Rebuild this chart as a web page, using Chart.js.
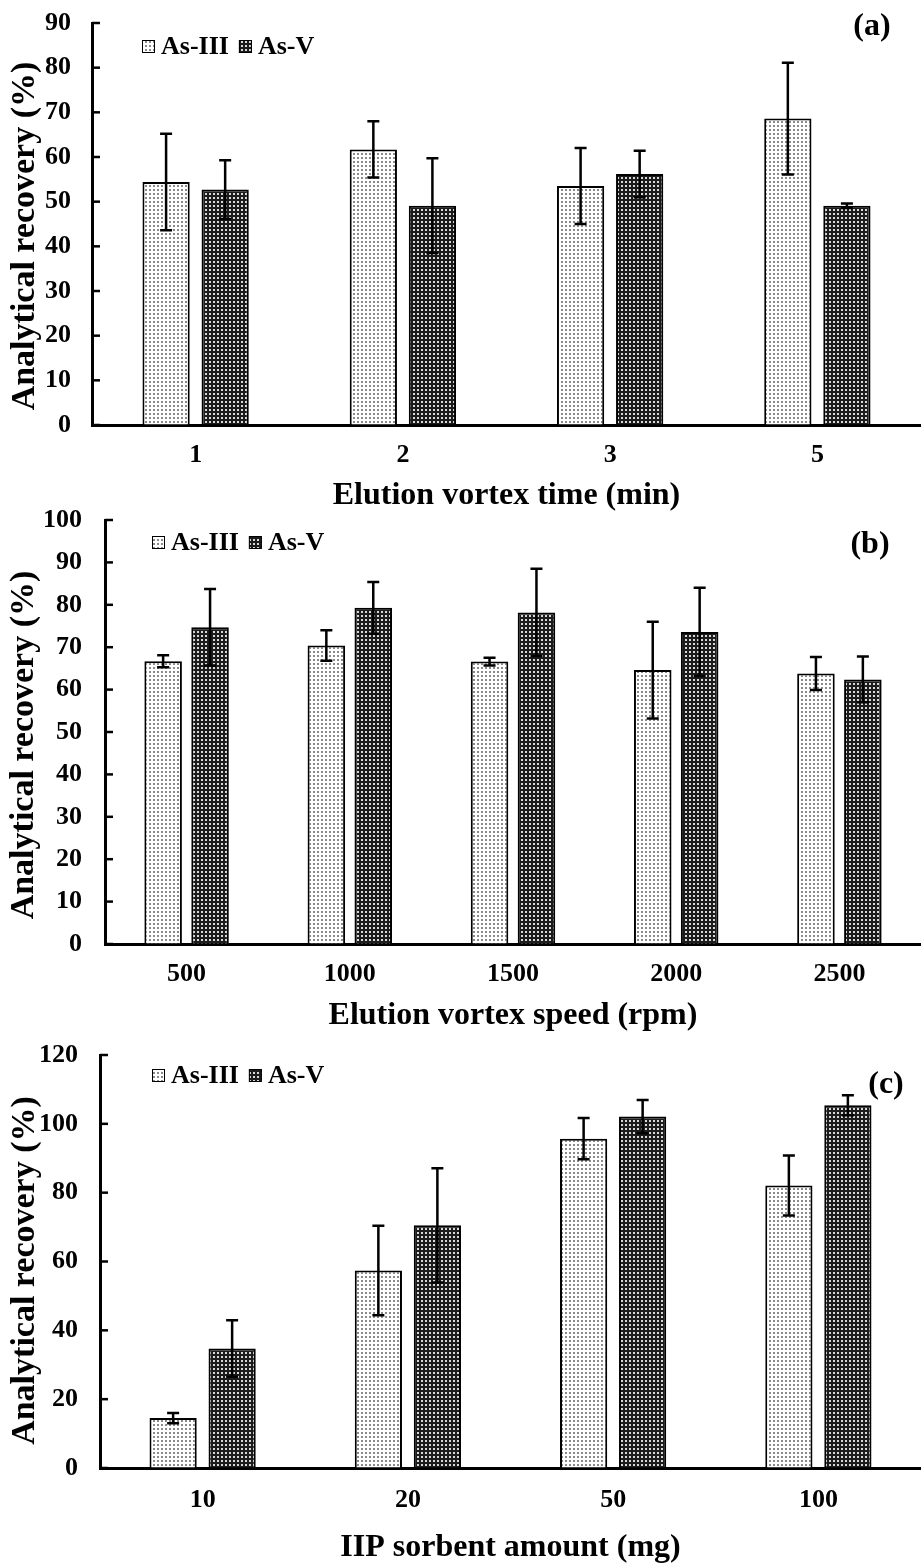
<!DOCTYPE html>
<html>
<head>
<meta charset="utf-8">
<script src="https://cdn.jsdelivr.net/npm/chart.js@4.4.1/dist/chart.umd.min.js"></script>
<style>
  html, body { margin: 0; padding: 0; background: #fff; overflow: hidden; }
  .panel { position: absolute; left: 0; width: 921px; }
</style>
</head>
<body>
<div class="panel" style="top:0;height:515px"><canvas id="chartA"></canvas></div>
<div class="panel" style="top:502px;height:533px"><canvas id="chartB"></canvas></div>
<div class="panel" style="top:1035px;height:532px"><canvas id="chartC"></canvas></div>
<script>
// (a) elution vortex time
const timeLabels = ['1', '2', '3', '5'];
const timeAs3 = [54.4, 61.7, 53.5, 68.6];
const timeAs3Err = [10.8, 6.3, 8.5, 12.5];
const timeAs5 = [52.7, 49.1, 56.2, 49.1];
const timeAs5Err = [6.6, 10.6, 5.2, 0.5];

// (b) elution vortex speed
const speedLabels = ['500', '1000', '1500', '2000', '2500'];
const speedAs3 = [66.7, 70.4, 66.6, 64.6, 63.8];
const speedAs3Err = [1.4, 3.6, 0.9, 11.4, 3.9];
const speedAs5 = [74.7, 79.3, 78.2, 73.6, 62.4];
const speedAs5Err = [9.0, 6.1, 10.3, 10.4, 5.4];

// (c) IIP sorbent amount
const sorbentLabels = ['10', '20', '50', '100'];
const sorbentAs3 = [14.5, 57.4, 95.7, 82.1];
const sorbentAs3Err = [1.5, 13.0, 6.0, 8.7];
const sorbentAs5 = [34.7, 70.5, 102.1, 105.4];
const sorbentAs5Err = [8.2, 16.6, 4.8, 2.9];

const seriesNames = ['As-III', 'As-V'];
const yTitle = 'Analytical recovery (%)';

const FONT = '"Liberation Serif", "Times New Roman", serif';

function dotPattern(bg, dot) {
    const c = document.createElement('canvas');
    c.width = 4; c.height = 4;
    const g = c.getContext('2d');
    g.fillStyle = bg;
    g.fillRect(0, 0, 4, 4);
    g.fillStyle = dot;
    g.fillRect(1, 1, 2, 2);
    return g.createPattern(c, 'repeat');
}
const lightDots = dotPattern('#ffffff', '#8a8a8a');
const darkDots = dotPattern('#1c1c1c', '#d8d8d8');

// error bars, inward y ticks, y title, legend and panel letter
const extras = {
    id: 'extras',
    afterDatasetsDraw(chart, args, opts) {
        const ctx = chart.ctx;
        const y = chart.scales.y;
        ctx.save();
        ctx.strokeStyle = '#000';
        ctx.lineWidth = 2.5;
        chart.data.datasets.forEach((ds, di) => {
            chart.getDatasetMeta(di).data.forEach((bar, i) => {
                const v = ds.data[i], e = ds.errors[i];
                const yt = y.getPixelForValue(v + e);
                const yb = y.getPixelForValue(v - e);
                ctx.beginPath();
                ctx.moveTo(bar.x, yt); ctx.lineTo(bar.x, yb);
                ctx.moveTo(bar.x - 6, yt); ctx.lineTo(bar.x + 6, yt);
                ctx.moveTo(bar.x - 6, yb); ctx.lineTo(bar.x + 6, yb);
                ctx.stroke();
            });
        });
        ctx.restore();
    },
    afterDraw(chart, args, opts) {
        const ctx = chart.ctx;
        const area = chart.chartArea;
        const y = chart.scales.y;
        ctx.save();
        // ticks pointing into the plot
        ctx.strokeStyle = '#000';
        ctx.lineWidth = 2.5;
        y.ticks.forEach(t => {
            const py = y.getPixelForValue(t.value);
            ctx.beginPath();
            ctx.moveTo(area.left, py);
            ctx.lineTo(area.left + 8, py);
            ctx.stroke();
        });
        // y axis title, a bit below the middle like the original
        ctx.save();
        ctx.translate(opts.titleX, (area.top + area.bottom) / 2 + opts.titleShift);
        ctx.rotate(-Math.PI / 2);
        ctx.font = 'bold 34px ' + FONT;
        ctx.fillStyle = '#000';
        ctx.textAlign = 'center';
        ctx.textBaseline = 'middle';
        ctx.fillText(yTitle, 0, 0);
        ctx.restore();
        // legend
        ctx.font = 'bold 26px ' + FONT;
        ctx.textBaseline = 'middle';
        ctx.textAlign = 'left';
        let lx = area.left + opts.legendX;
        const ly = area.top + opts.legendY;
        chart.data.datasets.forEach(ds => {
            ctx.fillStyle = ds.backgroundColor;
            ctx.fillRect(lx, ly, 13, 13);
            ctx.lineWidth = 1;
            ctx.strokeRect(lx + 0.5, ly + 0.5, 12, 12);
            ctx.fillStyle = '#000';
            ctx.fillText(ds.label, lx + 19, ly + 7);
            lx += 19 + ctx.measureText(ds.label).width + 10;
        });
        // panel letter
        ctx.font = 'bold 32px ' + FONT;
        ctx.textAlign = 'center';
        ctx.fillText(opts.letter, opts.letterX, opts.letterY);
        ctx.restore();
    }
};

function makeChart(id, labels, as3, as3Err, as5, as5Err, p) {
    return new Chart(document.getElementById(id), {
        type: 'bar',
        data: {
            labels: labels,
            datasets: [
                { label: seriesNames[0], data: as3, errors: as3Err, backgroundColor: lightDots,
                  borderColor: '#000', borderWidth: 2 },
                { label: seriesNames[1], data: as5, errors: as5Err, backgroundColor: darkDots,
                  borderColor: '#000', borderWidth: 2 }
            ]
        },
        options: {
            responsive: true,
            maintainAspectRatio: false,
            animation: false,
            datasets: { bar: { categoryPercentage: p.catPct, barPercentage: 0.8 } },
            layout: { padding: { top: p.padTop, left: 0, right: 0, bottom: 0 } },
            plugins: {
                legend: { display: false },
                tooltip: { enabled: false },
                extras: p.extras
            },
            scales: {
                x: {
                    z: 1,
                    grid: { display: true, drawOnChartArea: false, drawTicks: false },
                    border: { display: true, color: '#000', width: 3 },
                    ticks: { color: '#000', padding: p.xTickPad, font: { family: FONT, size: 26, weight: 'bold' } },
                    title: { display: true, text: p.xTitle, color: '#000', padding: { top: 0, bottom: 0 },
                             font: { family: FONT, size: 32, weight: 'bold' } },
                    afterFit: s => { s.height = p.xAxisH; s.paddingLeft = 0; s.paddingRight = 0; }
                },
                y: {
                    z: 1,
                    min: 0,
                    max: p.yMax,
                    grid: { display: true, drawOnChartArea: false, drawTicks: false },
                    border: { display: true, color: '#000', width: 3 },
                    ticks: { stepSize: p.yStep, color: '#000', padding: p.yTickPad,
                             font: { family: FONT, size: 26, weight: 'bold' } },
                    afterFit: s => { s.width = p.yAxisW; s.paddingTop = 0; s.paddingBottom = 0; }
                }
            }
        },
        plugins: [extras]
    });
}

makeChart('chartA', timeLabels, timeAs3, timeAs3Err, timeAs5, timeAs5Err, {
    catPct: 0.57, padTop: 23, xTickPad: 15, xAxisH: 90, yMax: 90, yStep: 10,
    yTickPad: 21, yAxisW: 92, xTitle: 'Elution vortex time (min)',
    extras: { titleX: 25, titleShift: 12, legendX: 50, legendY: 17, letter: '(a)', letterX: 872, letterY: 27 }
});

makeChart('chartB', speedLabels, speedAs3, speedAs3Err, speedAs5, speedAs5Err, {
    catPct: 0.575, padTop: 18, xTickPad: 15, xAxisH: 91, yMax: 100, yStep: 10,
    yTickPad: 23, yAxisW: 105, xTitle: 'Elution vortex speed (rpm)',
    extras: { titleX: 24, titleShift: 13, legendX: 47, legendY: 16, letter: '(b)', letterX: 870, letterY: 43 }
});

makeChart('chartC', sorbentLabels, sorbentAs3, sorbentAs3Err, sorbentAs5, sorbentAs5Err, {
    catPct: 0.575, padTop: 20, xTickPad: 17, xAxisH: 99, yMax: 120, yStep: 20,
    yTickPad: 22, yAxisW: 100, xTitle: 'IIP sorbent amount (mg)',
    extras: { titleX: 25, titleShift: 9, legendX: 52, legendY: 14, letter: '(c)', letterX: 886, letterY: 50 }
});
</script>
</body>
</html>
